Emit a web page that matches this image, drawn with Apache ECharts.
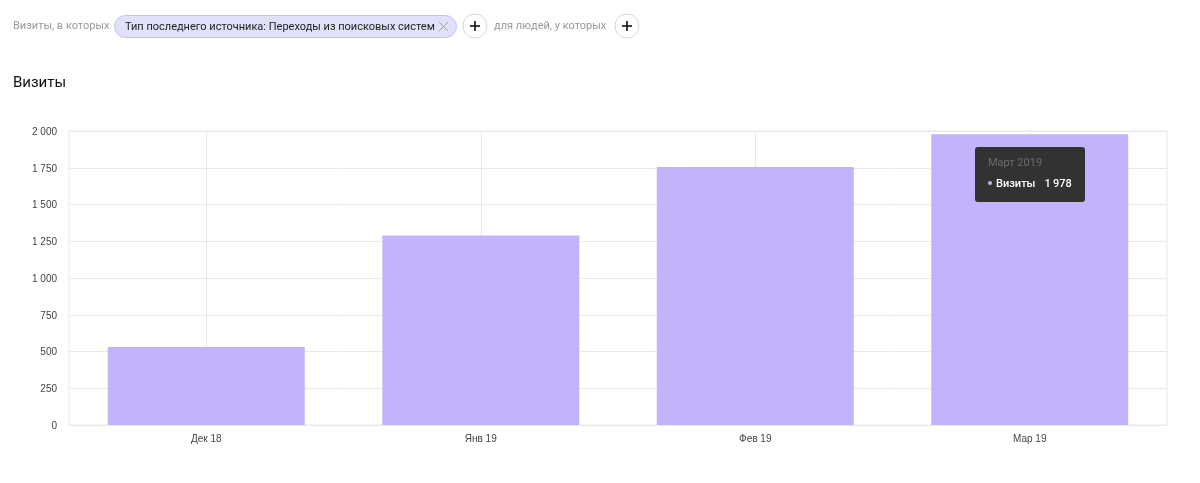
<!DOCTYPE html>
<html>
<head>
<meta charset="utf-8">
<title>Визиты</title>
<script src="https://cdn.jsdelivr.net/npm/echarts@6/dist/echarts.min.js"></script>
<style>
  html, body { margin: 0; padding: 0; background: #fff; }
  #chart { width: 1200px; height: 483px; }
</style>
</head>
<body>
<div id="chart"></div>
<script>
// данные графика
var categories = ["Дек 18", "Янв 19", "Фев 19", "Мар 19"];
var fullMonths = ["Декабрь 2018", "Январь 2019", "Февраль 2019", "Март 2019"];
var visits = [530, 1289, 1755, 1978];
var seriesName = "Визиты";
var filterPrefix = "Визиты, в которых";
var filterChip = "Тип последнего источника: Переходы из поисковых систем";
var filterSuffix = "для людей, у которых";

var FONT = "Roboto, 'Noto Sans', sans-serif";
var AXIS_FONT = "'Liberation Sans', Arial, sans-serif";
var BAR_COLOR = "#c3b3fa";
var GRID_COLOR = "#e9e9e9";

// кнопка "плюс"
function plusButton(cx, cy) {
  return {
    type: "group",
    children: [
      { type: "circle", shape: { cx: cx, cy: cy, r: 12 }, style: { fill: "#fff", stroke: "#d6d6d6", lineWidth: 1 } },
      { type: "line", shape: { x1: cx - 5, y1: cy, x2: cx + 5, y2: cy }, style: { stroke: "#111", lineWidth: 1.6 } },
      { type: "line", shape: { x1: cx, y1: cy - 5, x2: cx, y2: cy + 5 }, style: { stroke: "#111", lineWidth: 1.6 } }
    ]
  };
}

var chart = echarts.init(document.getElementById("chart"));
chart.setOption({
  animation: false,
  backgroundColor: "#fff",
  grid: { left: 69, right: 33, top: 131, bottom: 58, show: true, borderColor: GRID_COLOR, borderWidth: 1 },
  tooltip: {
    trigger: "item",
    alwaysShowContent: true,
    showDelay: 0,
    transitionDuration: 0,
    position: [975, 147],
    backgroundColor: "#333232",
    borderWidth: 0,
    padding: 0,
    extraCssText: "box-shadow:none;border-radius:3px;width:110px;height:55px;box-sizing:border-box;",
    formatter: function (p) {
      return '<div style="padding:9px 13px 0;font:11px ' + FONT + ';line-height:14px;color:#6b6b6b;">' + fullMonths[p.dataIndex] + '</div>' +
        '<div style="padding:7px 0 0 13px;font:500 11px ' + FONT + ';line-height:14px;color:#fff;white-space:nowrap;">' +
        '<span style="display:inline-block;width:4px;height:4px;border-radius:50%;background:' + BAR_COLOR + ';vertical-align:2px;margin-right:4px;"></span>' +
        p.seriesName + '<span style="margin-left:9px;">' + String(p.value).replace(/^(\d)(\d{3})$/, "$1\u2009$2") + '</span></div>';
    }
  },
  xAxis: {
    type: "category",
    data: categories,
    axisLine: { show: true, lineStyle: { color: GRID_COLOR } },
    axisTick: { show: false },
    axisLabel: { color: "#444", fontSize: 10, fontFamily: AXIS_FONT, margin: 9 },
    splitLine: { show: true, alignWithLabel: true, showMinLine: true, showMaxLine: true, lineStyle: { color: GRID_COLOR } }
  },
  yAxis: {
    type: "value",
    min: 0,
    max: 2000,
    interval: 250,
    axisLine: { show: false },
    axisTick: { show: false },
    axisLabel: {
      color: "#444",
      fontSize: 10,
      fontFamily: AXIS_FONT,
      margin: 12,
      verticalAlign: "top",
      lineHeight: 2,
      formatter: function (v) { return String(v).replace(/^(\d)(\d{3})$/, "$1 $2"); }
    },
    splitLine: { show: true, lineStyle: { color: GRID_COLOR } }
  },
  series: [{
    name: seriesName,
    type: "bar",
    data: visits,
    barWidth: 197,
    itemStyle: { color: BAR_COLOR },
    emphasis: { disabled: true }
  }],
  graphic: [
    { type: "text", x: 13, y: 26, style: { text: filterPrefix, fill: "#999", font: "11px " + FONT, textVerticalAlign: "middle" } },
    { type: "rect", shape: { x: 114.5, y: 15.5, width: 342, height: 22, r: 11 }, style: { fill: "#e1e1fb", stroke: "#c4c4ea", lineWidth: 1 } },
    { type: "text", x: 125, y: 27, style: { text: filterChip, fill: "#222", font: "11px " + FONT, textVerticalAlign: "middle" } },
    { type: "line", shape: { x1: 439, y1: 22, x2: 448, y2: 31 }, style: { stroke: "#a0a0a8", lineWidth: 1 } },
    { type: "line", shape: { x1: 448, y1: 22, x2: 439, y2: 31 }, style: { stroke: "#a0a0a8", lineWidth: 1 } },
    plusButton(475, 26),
    { type: "text", x: 494, y: 26, style: { text: filterSuffix, fill: "#999", font: "11px " + FONT, textVerticalAlign: "middle" } },
    plusButton(627, 26),
    { type: "text", x: 13, y: 83, style: { text: seriesName, fill: "#111", font: "15px " + FONT, textVerticalAlign: "middle" } }
  ]
});

// подсказка над последним столбцом
chart.dispatchAction({ type: "showTip", seriesIndex: 0, dataIndex: 3 });
</script>
</body>
</html>
